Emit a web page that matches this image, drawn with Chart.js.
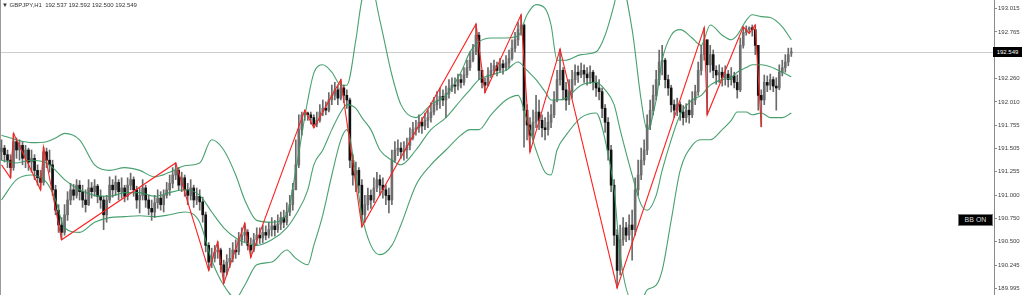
<!DOCTYPE html>
<html><head><meta charset="utf-8">
<script src="https://cdn.jsdelivr.net/npm/chart.js@4.4.1/dist/chart.umd.min.js"></script>
<style>
html,body{margin:0;padding:0;background:#fff;}
#wrap{position:relative;width:1024px;height:295px;overflow:hidden;background:#fff;}
canvas{display:block;}
#hdr{position:absolute;left:2px;top:1px;font:6px "Liberation Sans",Arial,sans-serif;color:#333;white-space:pre;line-height:8px;}
#bidTag{position:absolute;left:993px;width:29px;height:10px;background:#000;color:#fff;font:6px "Liberation Sans",Arial,sans-serif;line-height:10px;text-align:center;}
#bbOn{position:absolute;left:958px;top:214px;width:33px;height:10px;background:#000;border:1px solid #777;color:#ddd;font:7px "Liberation Sans",Arial,sans-serif;line-height:10px;text-align:center;}
</style></head>
<body>
<div id="wrap">
<canvas id="c" width="1024" height="295"></canvas>
<div id="hdr">▼ GBPJPY,H1  192.537 192.592 192.500 192.549</div>
<div id="bidTag">192.549</div>
<div id="bbOn">BB ON</div>
</div>
<script>
const symbolTitle = 'GBPJPY,H1';
const bidPrice = 192.549;
const tickValues = [193.015,192.765,192.510,192.260,192.010,191.755,191.505,191.255,191.000,190.750,190.500,190.245,189.995];
const tickLabels = ['193.015','192.765','192.510','192.260','192.010','191.755','191.505','191.255','191.000','190.750','190.500','190.245','189.995'];

const opens = [
191.47,191.51,191.44,191.38,191.30,191.58,191.49,191.54,191.40,191.49,
191.36,191.40,191.27,191.19,191.14,191.47,191.38,191.33,191.06,190.84,
190.68,190.60,190.79,190.95,191.06,191.00,191.11,191.04,190.95,190.90,
191.08,191.04,191.10,190.99,190.95,190.79,190.95,191.11,191.06,191.14,
191.04,191.08,190.99,191.11,191.17,191.06,190.95,191.00,191.08,190.95,
190.86,190.82,190.92,190.97,190.90,191.00,191.06,191.13,191.22,191.27,
191.11,191.19,191.06,191.00,191.08,190.95,190.99,190.93,190.79,190.46,
190.28,190.32,190.39,190.41,190.25,190.17,190.28,190.32,190.41,190.39,
190.52,190.57,190.60,190.46,190.41,190.52,190.57,190.54,190.60,190.57,
190.63,190.67,190.63,190.69,190.76,190.71,190.82,190.90,191.06,191.33,
191.71,191.87,191.89,191.87,191.84,191.77,191.81,191.90,191.94,191.92,
192.03,192.08,192.14,192.05,192.16,192.08,192.03,191.38,191.22,191.27,
191.11,190.79,190.90,191.00,190.95,191.08,191.17,191.11,191.06,191.00,
190.95,191.38,191.49,191.51,191.47,191.49,191.54,191.62,191.71,191.73,
191.79,191.75,191.81,191.84,191.90,191.98,192.03,192.07,192.03,192.10,
192.16,192.19,192.18,192.25,192.22,192.30,192.38,192.46,192.55,192.73,
192.35,192.22,192.19,192.30,192.35,192.40,192.35,192.42,192.38,192.43,
192.48,192.59,192.68,192.79,192.84,191.92,191.76,191.65,191.79,191.90,
191.81,191.73,191.71,191.79,191.87,192.03,192.25,192.35,192.14,192.03,
192.12,192.25,192.33,192.30,192.35,192.31,192.27,192.33,192.22,192.16,
192.12,191.94,191.79,191.49,191.11,190.57,190.19,190.52,190.65,190.57,
190.68,190.63,191.06,191.22,191.38,191.49,191.76,191.92,192.08,192.25,
192.44,192.46,192.25,192.16,191.98,191.92,191.98,191.90,191.84,191.92,
191.87,192.03,192.12,192.35,192.52,192.68,192.41,192.52,192.35,192.30,
192.33,192.27,192.31,192.25,192.29,192.22,192.14,192.62,192.76,192.79,
192.81,192.79,192.62,192.08,192.03,192.22,192.19,192.25,192.18,192.16,
192.33,192.38,192.44,192.537];

const closes = [
191.51,191.44,191.38,191.30,191.58,191.49,191.54,191.40,191.49,191.36,
191.40,191.27,191.19,191.14,191.47,191.38,191.33,191.06,190.84,190.68,
190.60,190.79,190.95,191.06,191.00,191.11,191.04,190.95,190.90,191.08,
191.04,191.10,190.99,190.95,190.79,190.95,191.11,191.06,191.14,191.04,
191.08,190.99,191.11,191.17,191.06,190.95,191.00,191.08,190.95,190.86,
190.82,190.92,190.97,190.90,191.00,191.06,191.13,191.22,191.27,191.11,
191.19,191.06,191.00,191.08,190.95,190.99,190.93,190.79,190.46,190.28,
190.32,190.39,190.41,190.25,190.17,190.28,190.32,190.41,190.39,190.52,
190.57,190.60,190.46,190.41,190.52,190.57,190.54,190.60,190.57,190.63,
190.67,190.63,190.69,190.76,190.71,190.82,190.90,191.06,191.33,191.71,
191.87,191.89,191.87,191.84,191.77,191.81,191.90,191.94,191.92,192.03,
192.08,192.14,192.05,192.16,192.08,192.03,191.38,191.22,191.27,191.11,
190.79,190.90,191.00,190.95,191.08,191.17,191.11,191.06,191.00,190.95,
191.38,191.49,191.51,191.47,191.49,191.54,191.62,191.71,191.73,191.79,
191.75,191.81,191.84,191.90,191.98,192.03,192.07,192.03,192.10,192.16,
192.19,192.18,192.25,192.22,192.30,192.38,192.46,192.55,192.73,192.35,
192.22,192.19,192.30,192.35,192.40,192.35,192.42,192.38,192.43,192.48,
192.59,192.68,192.79,192.84,191.92,191.76,191.65,191.79,191.90,191.81,
191.73,191.71,191.79,191.87,192.03,192.25,192.35,192.14,192.03,192.12,
192.25,192.33,192.30,192.35,192.31,192.27,192.33,192.22,192.16,192.12,
191.94,191.79,191.49,191.11,190.57,190.19,190.52,190.65,190.57,190.68,
190.63,191.06,191.22,191.38,191.49,191.76,191.92,192.08,192.25,192.44,
192.46,192.25,192.16,191.98,191.92,191.98,191.90,191.84,191.92,191.87,
192.03,192.12,192.35,192.52,192.68,192.41,192.52,192.35,192.30,192.33,
192.27,192.31,192.25,192.29,192.22,192.14,192.62,192.76,192.79,192.81,
192.79,192.62,192.08,192.03,192.22,192.19,192.25,192.18,192.16,192.33,
192.38,192.44,192.52,192.549];

const highs = [
191.60,191.54,191.49,191.44,191.67,191.62,191.60,191.58,191.54,191.51,
191.49,191.44,191.33,191.27,191.52,191.51,191.49,191.38,191.11,190.90,
190.76,190.90,191.04,191.13,191.12,191.17,191.16,191.11,191.06,191.17,
191.14,191.17,191.12,191.06,190.99,191.00,191.20,191.17,191.21,191.17,
191.19,191.11,191.19,191.24,191.20,191.10,191.08,191.17,191.11,191.00,
190.95,191.00,191.06,191.04,191.06,191.14,191.22,191.30,191.35,191.30,
191.25,191.22,191.13,191.17,191.11,191.08,191.06,190.98,190.82,190.49,
190.43,190.46,190.50,190.43,190.30,190.36,190.43,190.49,190.52,190.60,
190.65,190.70,190.63,190.54,190.59,190.65,190.65,190.68,190.67,190.71,
190.76,190.73,190.79,190.82,190.84,190.92,191.00,191.13,191.60,191.87,
191.90,191.92,191.90,191.90,191.87,191.90,191.98,192.03,192.01,192.11,
192.19,192.22,192.19,192.25,192.19,192.14,192.05,191.44,191.36,191.30,
191.17,191.00,191.08,191.06,191.19,191.25,191.22,191.19,191.11,191.08,
191.49,191.58,191.60,191.57,191.58,191.62,191.73,191.79,191.81,191.87,
191.84,191.89,191.92,192.00,192.06,192.12,192.16,192.14,192.18,192.25,
192.27,192.27,192.31,192.31,192.38,192.46,192.55,192.63,192.85,192.76,
192.35,192.27,192.38,192.43,192.46,192.44,192.48,192.46,192.51,192.57,
192.68,192.76,192.87,192.95,192.85,191.98,191.84,191.92,192.08,192.03,
191.87,191.84,191.90,191.98,192.12,192.35,192.58,192.38,192.22,192.25,
192.35,192.41,192.40,192.43,192.41,192.38,192.40,192.35,192.29,192.25,
192.16,191.98,191.84,191.54,191.17,190.63,190.68,190.76,190.71,190.79,
190.84,191.19,191.38,191.51,191.60,191.87,192.03,192.19,192.35,192.57,
192.62,192.48,192.30,192.19,192.03,192.05,192.01,191.97,191.99,192.03,
192.12,192.19,192.44,192.62,192.81,192.68,192.62,192.57,192.40,192.41,
192.38,192.40,192.35,192.38,192.33,192.30,192.70,192.82,192.83,192.82,
192.84,192.84,192.62,192.14,192.30,192.29,192.31,192.28,192.27,192.41,
192.46,192.52,192.59,192.592];

const lows = [
191.38,191.36,191.30,191.19,191.27,191.40,191.38,191.33,191.30,191.27,
191.25,191.17,191.11,191.06,191.11,191.30,191.25,191.00,190.79,190.60,
190.52,190.57,190.73,190.90,190.95,190.97,190.95,190.87,190.82,190.89,
190.97,190.99,190.92,190.86,190.63,190.71,190.92,190.98,191.00,190.95,
190.97,190.93,190.95,191.06,190.99,190.86,190.81,190.95,190.87,190.79,
190.73,190.76,190.86,190.84,190.82,190.97,191.00,191.08,191.17,191.06,
191.04,190.99,190.90,190.95,190.87,190.90,190.84,190.71,190.39,190.19,
190.22,190.28,190.32,190.17,190.05,190.14,190.22,190.28,190.32,190.36,
190.46,190.50,190.41,190.33,190.39,190.46,190.48,190.49,190.52,190.54,
190.56,190.56,190.60,190.63,190.65,190.68,190.78,190.84,191.06,191.30,
191.65,191.81,191.81,191.77,191.73,191.74,191.79,191.86,191.87,191.90,
191.98,192.03,191.98,192.03,192.00,191.94,191.30,191.11,191.04,191.03,
190.66,190.71,190.84,190.86,190.92,191.04,191.00,190.97,190.90,190.81,
190.90,191.36,191.43,191.40,191.38,191.40,191.49,191.60,191.65,191.68,
191.67,191.71,191.73,191.79,191.87,191.92,191.94,191.97,191.84,192.05,
192.12,192.10,192.14,192.16,192.19,192.27,192.35,192.44,192.52,192.25,
192.16,192.11,192.18,192.27,192.31,192.29,192.33,192.31,192.35,192.38,
192.46,192.55,192.62,192.73,191.52,191.60,191.47,191.60,191.73,191.71,
191.63,191.60,191.65,191.73,191.84,192.01,192.19,192.03,191.92,191.98,
192.05,192.19,192.22,192.27,192.22,192.19,192.21,192.14,192.07,192.03,
191.84,191.68,191.38,191.04,190.46,190.00,190.14,190.46,190.50,190.52,
190.30,190.57,191.00,191.17,191.33,191.44,191.71,191.87,192.03,192.19,
192.30,192.16,192.08,191.90,191.84,191.86,191.81,191.76,191.79,191.78,
191.84,191.98,192.08,192.30,192.46,191.87,192.33,192.27,192.20,192.22,
192.18,192.19,192.17,192.19,192.16,192.05,192.12,192.59,192.73,192.75,
192.72,192.52,191.92,191.74,191.98,192.12,192.14,192.12,191.92,192.14,
192.29,192.33,192.40,192.500];

const zigzagIdx = [0,3,4,13,14,20,58,69,72,74,81,83,101,104,113,120,158,161,173,176,186,205,234,235,247,249,251,253];
const zigzagPrice = [191.33,191.19,191.67,191.06,191.52,190.52,191.35,190.19,190.50,190.05,190.70,190.33,191.92,191.73,192.25,190.66,192.85,192.11,192.95,191.47,192.58,190.00,192.81,191.87,192.82,192.75,192.84,191.74];

const bandIdx = [0,5,10,15,18,21,26,31,36,41,46,51,56,61,66,70,74,78,81,85,90,95,98,102,104,107,110,113,115,118,120,123,126,130,133,138,143,148,153,156,159,163,168,172,175,178,181,183,185,188,193,198,201,204,206,210,213,215,218,220,223,226,230,233,236,240,243,245,248,250,253,256,260,263];
const upperBand = [191.65,191.60,191.57,191.58,191.62,191.67,191.60,191.33,191.27,191.30,191.27,191.20,191.25,191.32,191.35,191.60,191.49,191.22,190.95,190.73,190.71,190.79,191.27,192.03,192.32,192.41,192.33,192.19,192.19,192.68,193.11,193.27,192.89,192.30,191.98,191.84,191.98,192.08,192.33,192.55,192.66,192.70,192.70,192.72,192.95,193.06,193.02,192.84,192.46,192.46,192.52,192.55,192.73,193.06,193.33,192.79,192.03,191.71,192.03,192.46,192.73,192.79,192.70,192.62,192.84,192.73,192.68,192.73,192.89,192.95,192.93,192.92,192.82,192.68];
const midBand = [191.38,191.35,191.38,191.35,191.27,191.17,191.06,191.00,190.99,191.03,191.03,190.99,191.03,191.06,191.00,190.82,190.65,190.54,190.49,190.46,190.52,190.65,190.79,191.06,191.33,191.49,191.71,191.90,191.98,191.94,191.84,191.71,191.49,191.38,191.33,191.49,191.71,191.84,192.03,192.14,192.25,192.30,192.35,192.44,192.35,192.25,192.12,192.03,192.03,192.05,192.19,192.22,192.14,191.98,191.71,191.22,190.90,190.84,191.00,191.27,191.60,191.87,192.03,192.08,192.19,192.25,192.27,192.33,192.38,192.41,192.41,192.39,192.33,192.28];
const lowerBand = [190.95,191.17,191.22,191.14,190.95,190.65,190.60,190.71,190.76,190.77,190.78,190.77,190.79,190.82,190.71,190.30,190.03,189.89,190.03,190.25,190.28,190.41,190.32,190.25,190.46,190.79,191.22,191.60,191.71,191.22,190.79,190.46,190.36,190.46,190.68,191.11,191.33,191.49,191.65,191.71,191.71,191.87,192.03,192.08,191.81,191.49,191.25,191.22,191.49,191.65,191.84,191.89,191.60,191.06,190.36,189.87,189.87,189.98,190.03,190.19,190.73,191.27,191.54,191.60,191.60,191.71,191.81,191.90,191.90,191.87,191.89,191.84,191.84,191.89];

const SLOTS = 331;
const slotLabels = Array.from({length: SLOTS}, (_, i) => i);
const pts = (idx, vals) => idx.map((x, k) => ({x: x, y: vals[k]}));

const frame = {
  id: 'frame',
  beforeDatasetsDraw(chart) {
    const {ctx, chartArea: a, scales: {y}} = chart;
    ctx.save();
    const py = Math.round(y.getPixelForValue(bidPrice)) + 0.5;
    ctx.strokeStyle = '#cdcdcd'; ctx.lineWidth = 1;
    ctx.beginPath(); ctx.moveTo(a.left, py); ctx.lineTo(a.right, py); ctx.stroke();
    ctx.strokeStyle = '#9a9a9a';
    ctx.beginPath(); ctx.moveTo(0.5, 0); ctx.lineTo(0.5, chart.height); ctx.stroke();
    ctx.restore();
  },
  afterRender(chart) {
    const py = chart.scales.y.getPixelForValue(bidPrice);
    document.getElementById('bidTag').style.top = (Math.round(py) - 5) + 'px';
  }
};

const green = 'rgba(52,150,95,0.9)';
new Chart(document.getElementById('c'), {
  type: 'bar',
  data: {
    labels: slotLabels,
    datasets: [
      {type: 'line', label: 'ZigZag', data: pts(zigzagIdx, zigzagPrice), borderColor: '#ff2020', borderWidth: 1.1, pointRadius: 0, tension: 0, order: 0},
      {type: 'line', label: 'BB upper', data: pts(bandIdx, upperBand), borderColor: green, borderWidth: 1.1, pointRadius: 0, cubicInterpolationMode: 'monotone', order: 1},
      {type: 'line', label: 'BB middle', data: pts(bandIdx, midBand), borderColor: green, borderWidth: 1.1, pointRadius: 0, cubicInterpolationMode: 'monotone', order: 1},
      {type: 'line', label: 'BB lower', data: pts(bandIdx, lowerBand), borderColor: green, borderWidth: 1.1, pointRadius: 0, cubicInterpolationMode: 'monotone', order: 1},
      {label: 'body', data: opens.map((o, i) => [o, closes[i]]), backgroundColor: closes.map((c, i) => c >= opens[i] ? '#6e6e6e' : '#111111'), barThickness: 2, minBarLength: 1, grouped: false, order: 2},
      {label: 'wick', data: lows.map((l, i) => [l, highs[i]]), backgroundColor: '#6a6a6a', barThickness: 1, grouped: false, order: 3}
    ]
  },
  options: {
    responsive: false, animation: false, devicePixelRatio: 1, events: [],
    layout: {padding: 0},
    plugins: {legend: {display: false}, tooltip: {enabled: false}, title: {display: false}},
    scales: {
      x: {display: false, offset: true},
      y: {
        position: 'right', min: 189.924, max: 193.11,
        afterBuildTicks: s => { s.ticks = tickValues.map(v => ({value: v})); },
        afterFit: s => { s.width = 30; s.paddingTop = 0; s.paddingBottom = 0; },
        ticks: {autoSkip: false, padding: 1, color: '#404040', font: {family: 'Liberation Sans', size: 6}, callback: (v, i) => tickLabels[i]},
        grid: {drawOnChartArea: false, drawTicks: true, tickLength: 3, color: '#8a8a8a'},
        border: {display: true, color: '#8a8a8a', width: 1}
      }
    }
  },
  plugins: [frame]
});
</script>
</body></html>
